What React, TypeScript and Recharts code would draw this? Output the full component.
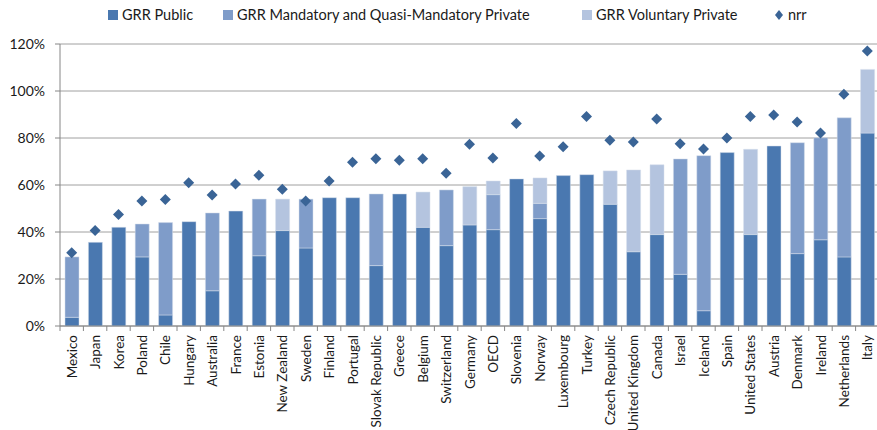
import React from "react";
import {
  ComposedChart,
  Bar,
  Scatter,
  XAxis,
  YAxis,
  CartesianGrid,
  Legend,
} from "recharts";

const countries = [
  "Mexico", "Japan", "Korea", "Poland", "Chile", "Hungary", "Australia",
  "France", "Estonia", "New Zealand", "Sweden", "Finland", "Portugal",
  "Slovak Republic", "Greece", "Belgium", "Switzerland", "Germany", "OECD",
  "Slovenia", "Norway", "Luxembourg", "Turkey", "Czech Republic",
  "United Kingdom", "Canada", "Israel", "Iceland", "Spain", "United States",
  "Austria", "Denmark", "Ireland", "Netherlands", "Italy",
];

// GRR Public
const grrPublic = [
  3.7, 35.6, 42.0, 29.4, 4.7, 44.4, 15.0, 48.9, 29.9, 40.6, 33.2, 54.6, 54.6,
  25.7, 56.2, 42.0, 34.2, 43.0, 41.0, 62.6, 45.7, 64.0, 64.4, 51.8, 31.6, 38.9,
  22.0, 6.5, 73.8, 38.9, 76.6, 30.8, 36.7, 29.4, 82.1,
];

// GRR Mandatory and Quasi-Mandatory Private (stacked on top of public)
const grrMandatory = [
  25.7, 0, 0, 14.0, 39.3, 0, 33.1, 0, 24.1, 0, 20.8, 0, 0,
  30.5, 0, 0, 23.7, 0, 14.9, 0, 6.5, 0, 0, 0, 0, 0,
  49.1, 66.0, 0, 0, 0, 47.2, 43.4, 59.2, 0,
];

// GRR Voluntary Private
const grrVoluntary = [
  0, 0, 0, 0, 0, 0, 0, 0, 0, 13.4, 0, 0, 0,
  0, 0, 15.0, 0, 16.3, 5.8, 0, 10.8, 0, 0, 14.2, 34.8, 29.7,
  0, 0, 0, 36.3, 0, 0, 0, 0, 27.1,
];

// net replacement rate
const nrr = [
  31.2, 40.6, 47.5, 53.2, 53.8, 61.0, 55.7, 60.4, 64.1, 58.2, 53.2, 61.7, 69.7,
  71.2, 70.5, 71.2, 65.0, 77.3, 71.5, 86.2, 72.3, 76.3, 89.1, 79.0, 78.3, 88.1,
  77.6, 75.3, 80.0, 89.2, 89.8, 86.8, 82.1, 98.6, 117.0,
];

const yTicks = [0, 20, 40, 60, 80, 100, 120];

const legendItems = [
  { name: "GRR Public", color: "#4a78b0", type: "square" },
  { name: "GRR Mandatory and Quasi-Mandatory Private", color: "#7f9cc9", type: "square" },
  { name: "GRR Voluntary Private", color: "#b4c4df", type: "square" },
  { name: "nrr", color: "#3a6496", type: "diamond" },
];
const legendWidths = [115, 359, 192, 60];

const data = countries.map((c, i) => ({
  country: c,
  pub: grrPublic[i],
  mand: grrMandatory[i],
  vol: grrVoluntary[i],
  nrr: nrr[i],
}));

const FONT = "Lato, 'Noto Sans', sans-serif";
const CHART_W = 879;
const PLOT_LEFT = 60;
const BAND = (CHART_W - PLOT_LEFT) / countries.length;

const Diamond = (props: any) => {
  const { cx, cy } = props;
  if (cx == null || cy == null) return null;
  const r = 5.5;
  return (
    <polygon
      points={`${cx},${cy - r} ${cx + r},${cy} ${cx},${cy + r} ${cx - r},${cy}`}
      fill="#3a6496"
    />
  );
};

const CountryTick = (props: any) => {
  const { x, y, payload } = props;
  const left = x - BAND / 2;
  return (
    <g>
      <line x1={left} y1={y - 9} x2={left} y2={y - 4} stroke="#868686" />
      <text
        x={x}
        y={y}
        transform={`rotate(-90, ${x}, ${y})`}
        textAnchor="end"
        dominantBaseline="central"
        fontSize={13.5}
        fontFamily={FONT}
        fill="#1a1a1a"
      >
        {payload.value}
      </text>
    </g>
  );
};

const LegendContent = () => (
  <div
    style={{
      display: "flex",
      paddingLeft: 108,
      fontFamily: FONT,
      fontSize: 14.5,
      color: "#1a1a1a",
      lineHeight: "14px",
      whiteSpace: "nowrap",
    }}
  >
    {legendItems.map((it, i) => (
      <div
        key={it.name}
        style={{ display: "flex", alignItems: "center", width: legendWidths[i] }}
      >
        <svg width={10} height={10} style={{ marginRight: 4 }}>
          {it.type === "square" ? (
            <rect x={0} y={0} width={10} height={10} fill={it.color} />
          ) : (
            <polygon points="5,0 9,5 5,10 1,5" fill={it.color} />
          )}
        </svg>
        <span>{it.name}</span>
      </div>
    ))}
  </div>
);

export default function App() {
  return (
    <div
      style={{
        position: "fixed",
        left: 0,
        top: 0,
        width: 877,
        height: 430,
        overflow: "hidden",
        background: "#fff",
      }}
    >
      <ComposedChart
        width={CHART_W}
        height={430}
        data={data}
        margin={{ top: 8, right: 0, bottom: 0, left: 0 }}
        barSize={14}
      >
        <Legend
          verticalAlign="top"
          align="left"
          height={36}
          content={<LegendContent />}
        />
        <CartesianGrid vertical={false} stroke="#a0a0a0" />
        <XAxis
          dataKey="country"
          interval={0}
          height={104}
          tick={<CountryTick />}
          tickLine={false}
          tickSize={5}
          tickMargin={4}
          stroke="#868686"
        />
        <YAxis
          width={60}
          domain={[0, 120]}
          ticks={yTicks}
          tickFormatter={(v) => `${v}%`}
          tickSize={5}
          tickMargin={10}
          stroke="#868686"
          tick={{ fontSize: 14, fontFamily: FONT, fill: "#1a1a1a" }}
        />
        <Bar dataKey="pub" stackId="a" fill="#4a78b0" stroke="#d6deea" strokeWidth={0.5} isAnimationActive={false} />
        <Bar dataKey="mand" stackId="a" fill="#7f9cc9" stroke="#d6deea" strokeWidth={0.5} isAnimationActive={false} />
        <Bar dataKey="vol" stackId="a" fill="#b4c4df" stroke="#d6deea" strokeWidth={0.5} isAnimationActive={false} />
        <Scatter dataKey="nrr" shape={<Diamond />} isAnimationActive={false} />
      </ComposedChart>
    </div>
  );
}
